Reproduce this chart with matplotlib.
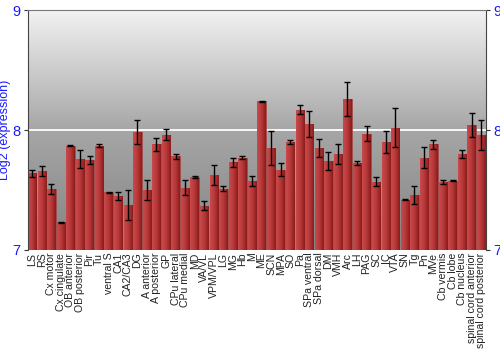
import matplotlib
matplotlib.use("Agg")
import matplotlib.pyplot as plt
import numpy as np
from matplotlib.colors import LinearSegmentedColormap

plt.rcParams["font.family"] = ["Liberation Sans", "DejaVu Sans"]

regions = ["LS", "RS", "Cx motor", "Cx cingulate", "OB anterior", "OB posterior", "Pir", "Tu",
           "ventral S", "CA1", "CA2/CA3", "DG", "A anterior", "A posterior", "GP", "CPu lateral",
           "CPu medial", "MD", "VA/VL", "VPM/VPL", "LG", "MG", "Hb", "M", "ME", "SCN", "MPA", "SO",
           "Pa", "SPa ventral", "SPa dorsal", "DM", "VMH", "Arc", "LH", "PAG", "SC", "IC", "VTA",
           "SN", "Tg", "Pn", "MVe", "Cb vermis", "Cb lobe", "Cb nucleus", "spinal cord anterior",
           "spinal cord posterior"]
values = [7.64, 7.66, 7.51, 7.23, 7.87, 7.76, 7.75, 7.87,
          7.48, 7.45, 7.375, 7.98, 7.50, 7.88, 7.96, 7.78,
          7.52, 7.61, 7.37, 7.625, 7.51, 7.73, 7.77, 7.575, 8.24, 7.85, 7.67, 7.90,
          8.17, 8.05, 7.85, 7.74, 7.80, 8.26, 7.725, 7.97, 7.57, 7.90, 8.02,
          7.42, 7.46, 7.77, 7.88, 7.57, 7.575, 7.80, 8.04,
          7.96]
errors = [0.03, 0.04, 0.04, 0.005, 0.005, 0.075, 0.03, 0.015,
          0.005, 0.03, 0.125, 0.10, 0.08, 0.055, 0.045, 0.02,
          0.065, 0.01, 0.04, 0.085, 0.02, 0.04, 0.01, 0.04, 0.004, 0.14, 0.055, 0.013,
          0.04, 0.11, 0.075, 0.075, 0.085, 0.14, 0.02, 0.06, 0.035, 0.09, 0.165,
          0.004, 0.075, 0.09, 0.035, 0.017, 0.004, 0.037, 0.10,
          0.125]

ymin, ymax = 7, 9
yticks = [7, 8, 9]

fig = plt.figure(figsize=(5, 3.5), dpi=100)
ax = fig.add_axes([0.055, 0.286, 0.917, 0.685])

n = len(regions)
x = np.arange(n)
ax.set_xlim(-0.5, n - 0.5)
ax.set_ylim(ymin, ymax)

# background gradient
bg = LinearSegmentedColormap.from_list("bg", ["#848484", "#a6a6a6", "#f2f2f2"])
grad = np.linspace(0, 1, 256).reshape(-1, 1)
ax.imshow(grad, extent=[0, 1, 0, 1], transform=ax.transAxes, origin="lower",
          cmap=bg, aspect="auto", zorder=0)

ax.axhline(8, color="white", lw=1.3, zorder=1)

bars = ax.bar(x, np.array(values) - ymin, bottom=ymin, width=0.88,
              color="#b03030", edgecolor="#a04848", linewidth=0.5, zorder=2)

barcm = LinearSegmentedColormap.from_list("bar", ["#c84a4a", "#b83838", "#8a1c1c"])
hgrad = np.linspace(0, 1, 64).reshape(1, -1)
for b in bars:
    x0, w = b.get_x(), b.get_width()
    y0, h = b.get_y(), b.get_height()
    im = ax.imshow(hgrad, extent=[x0, x0 + w, y0, y0 + h], cmap=barcm,
                   aspect="auto", zorder=2.5, origin="lower")
    im.set_clip_path(b)

ax.errorbar(x, values, yerr=errors, fmt="none", ecolor="black", elinewidth=1,
            capsize=2.5, capthick=1, zorder=3)

ax.set_xlim(-0.5, n - 0.5)
ax.set_ylim(ymin, ymax)

ax.set_xticks(x)
ax.set_xticklabels(regions, rotation=90, fontsize=7.6, color="#222222")
ax.tick_params(axis="x", length=0, pad=2)
ax.set_yticks(yticks)
ax.set_yticklabels([str(t) for t in yticks])
ax.tick_params(axis="y", which="both", labelsize=10.5, labelcolor="#1a1aff",
               left=True, right=True, labelleft=True, labelright=True,
               length=3, color="#333333", direction="out", pad=2)
ax.set_ylabel("Log2 (expression)", color="#1a1aff", fontsize=9, labelpad=1)

ax.spines["top"].set_color("#777777")
for s in ["left", "right"]:
    ax.spines[s].set_color("#444444")
    ax.spines[s].set_linewidth(0.8)
ax.spines["bottom"].set_visible(False)

fig.savefig("out.png", dpi=100)
